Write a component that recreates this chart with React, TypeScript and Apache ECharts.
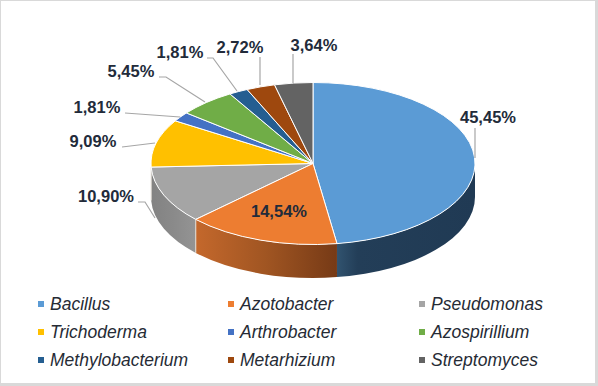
import React, { useEffect, useRef } from "react";
import * as echarts from "echarts";

const categories = ["Bacillus", "Azotobacter", "Pseudomonas", "Trichoderma", "Arthrobacter", "Azospirillium", "Methylobacterium", "Metarhizium", "Streptomyces"];
const values = [45.45, 14.54, 10.9, 9.09, 1.81, 5.45, 1.81, 2.72, 3.64];
const valueLabels = ["45,45%", "14,54%", "10,90%", "9,09%", "1,81%", "5,45%", "1,81%", "2,72%", "3,64%"];
const colors = ["#5B9BD5", "#ED7D31", "#A5A5A5", "#FFC000", "#4472C4", "#70AD47", "#255E91", "#9E480E", "#636363"];
const sideGradients: Record<number, string[]> = {
  0: ["#31536F", "#233E58", "#203A54"],
  1: ["#C4682C", "#A05522", "#763A16"],
  2: ["#828282", "#8A8A8A", "#949494"],
};
const labelCenters = [[488, 117], [279, 211], [106, 196], [93, 141], [97, 107], [131, 71], [180, 52], [240, 47], [314, 45]];
const leaders = [
  [[475, 128], [475, 158]],
  [],
  [[138, 202], [145, 202], [155, 218]],
  [[122, 147], [155, 143]],
  [[125, 113], [180, 117]],
  [[159, 77], [166, 77], [205, 102]],
  [[207, 58], [213, 58], [237, 91]],
  [[260, 57], [260, 85]],
  [[293, 54], [293, 83]],
];
const legendColumns = [[0, 3, 6], [1, 4, 7], [2, 5, 8]];
const legendLefts = [38, 228, 419];

const CX = 313;
const CY = 163.5;
const RX = 162;
const RY = 81;
const DEPTH = 33.5;
const total = values.reduce((a, b) => a + b, 0);
const pt = (t: number, dy = 0) => [CX + RX * Math.sin(t), CY - RY * Math.cos(t) + dy];
const fmt = (p: number[]) => `${p[0].toFixed(2)} ${p[1].toFixed(2)}`;

function renderSlice(index: number, startFrac: number, value: number) {
  const t0 = startFrac * 2 * Math.PI;
  const t1 = (startFrac + value / total) * 2 * Math.PI;
  const children: any[] = [];
  const s0 = Math.max(t0, Math.PI / 2);
  const s1 = Math.min(t1, (3 * Math.PI) / 2);
  if (s1 > s0 && sideGradients[index]) {
    const stops = sideGradients[index];
    children.push({
      type: "path",
      shape: {
        pathData: `M ${fmt(pt(s0))} A ${RX} ${RY} 0 0 1 ${fmt(pt(s1))} L ${fmt(pt(s1, DEPTH))} A ${RX} ${RY} 0 0 0 ${fmt(pt(s0, DEPTH))} Z`,
      },
      style: {
        fill: {
          type: "linear", x: 0, y: 0, x2: 1, y2: 0,
          colorStops: index === 0
            ? [{ offset: 0, color: stops[0] }, { offset: 0.15, color: stops[1] }, { offset: 1, color: stops[2] }]
            : [{ offset: 0, color: stops[0] }, { offset: 0.5, color: stops[1] }, { offset: 1, color: stops[2] }],
        },
      },
    });
    if (index > 0) {
      const a = pt(s1);
      children.push({
        type: "line",
        shape: { x1: a[0], y1: a[1], x2: a[0], y2: a[1] + DEPTH },
        style: { stroke: "#E4DFD8", lineWidth: 1 },
      });
    }
  }
  const large = t1 - t0 > Math.PI ? 1 : 0;
  children.push({
    type: "path",
    shape: { pathData: `M ${CX} ${CY} L ${fmt(pt(t0))} A ${RX} ${RY} 0 ${large} 1 ${fmt(pt(t1))} Z` },
    style: { fill: colors[index], stroke: "#FFFFFF", lineWidth: 1, lineJoin: "round" },
  });
  const lead = leaders[index];
  if (lead.length) {
    children.push({
      type: "polyline",
      shape: { points: lead },
      style: { fill: "none", stroke: "#A6A6A6", lineWidth: 1.2 },
    });
  }
  children.push({
    type: "text",
    style: {
      text: valueLabels[index],
      x: labelCenters[index][0],
      y: labelCenters[index][1],
      align: "center",
      verticalAlign: "middle",
      fill: "#222B3A",
      font: 'bold 16.5px "Liberation Sans", Arial, sans-serif',
    },
  });
  return { type: "group", children };
}

export default function App() {
  const ref = useRef<HTMLDivElement>(null);
  useEffect(() => {
    const chart = echarts.init(ref.current!, undefined, { renderer: "svg" });
    let cum = 0;
    const series = categories.map((name, i) => {
      const start = cum / total;
      cum += values[i];
      return {
        type: "custom",
        name,
        coordinateSystem: "none",
        silent: true,
        z: i === 1 ? 5 : 2,
        itemStyle: { color: colors[i] },
        data: [[values[i]]],
        renderItem: (_p: any, api: any) => renderSlice(i, start, api.value(0)),
      };
    });
    chart.setOption({
      animation: false,
      backgroundColor: "#D9D9D9",
      graphic: [{
        type: "rect", silent: true, z: -1,
        shape: { x: 1, y: 1, width: 594, height: 382 },
        style: { fill: "#FFFFFF" },
      }],
      legend: legendColumns.map((col, c) => ({
        orient: "vertical",
        left: legendLefts[c],
        top: 295,
        selectedMode: false,
        icon: "rect",
        itemWidth: 6,
        itemHeight: 6,
        itemGap: 10,
        padding: 0,
        data: col.map((k) => categories[k]),
        textStyle: {
          fontFamily: '"Liberation Sans", Arial, sans-serif',
          fontStyle: "italic",
          fontSize: 17.5,
          color: "#262B35",
          padding: [0, 0, 0, 1],
          lineHeight: 18,
        },
      })),
      series,
    });
    return () => chart.dispose();
  }, []);
  return <div ref={ref} style={{ position: "fixed", left: 0, top: 0, width: 598, height: 386 }} />;
}
